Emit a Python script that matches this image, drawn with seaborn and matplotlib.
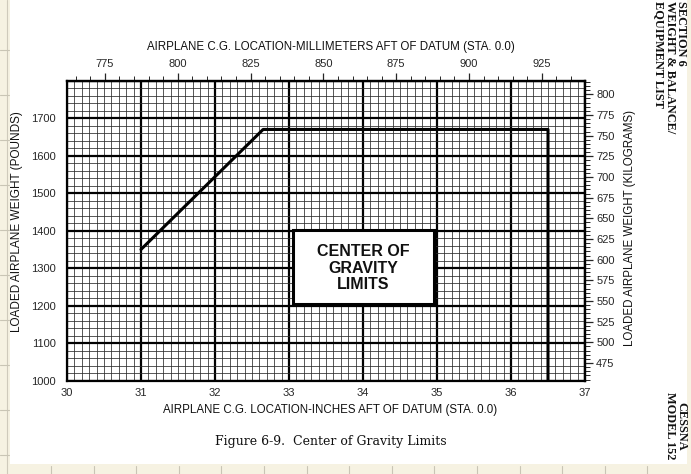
import numpy as np
import pandas as pd
import matplotlib
matplotlib.use("Agg")
import matplotlib.pyplot as plt
from matplotlib.patches import Rectangle
from matplotlib.lines import Line2D
import seaborn as sns

# ---------------- data ----------------
cg_inches = [31.0, 32.65, 36.5, 36.5]
weight_lb = [1350, 1670, 1670, 1000]

x_ticks_in = [30, 31, 32, 33, 34, 35, 36, 37]
y_ticks_lb = [1000, 1100, 1200, 1300, 1400, 1500, 1600, 1700]
top_ticks_mm = [775, 800, 825, 850, 875, 900, 925]
right_ticks_kg = [475, 500, 525, 550, 575, 600, 625, 650, 675, 700, 725, 750, 775, 800]

x_label = "AIRPLANE C.G. LOCATION-INCHES AFT OF DATUM (STA. 0.0)"
top_label = "AIRPLANE C.G. LOCATION-MILLIMETERS AFT OF DATUM (STA. 0.0)"
y_label = "LOADED AIRPLANE WEIGHT (POUNDS)"
right_label = "LOADED AIRPLANE WEIGHT (KILOGRAMS)"
box_text = "CENTER OF\nGRAVITY\nLIMITS"
caption = "Figure 6-9.  Center of Gravity Limits"
header = "SECTION 6\nWEIGHT & BALANCE/\nEQUIPMENT LIST"
footer = "CESSNA\nMODEL 152"

df = pd.DataFrame({"cg": cg_inches, "weight": weight_lb})

# ---------------- style ----------------
sns.set_style("white")
plt.rcParams["font.family"] = ["Liberation Sans", "DejaVu Sans"]
plt.rcParams["text.color"] = "#111111"

W, H = 691, 474
fig = plt.figure(figsize=(W / 100, H / 100), dpi=100)
fig.patch.set_facecolor("#f6f2e2")

# scanned page background
fig.add_artist(Rectangle((10 / W, 10 / H), 677 / W, 464 / H, transform=fig.transFigure,
                         facecolor="white", edgecolor="none", zorder=0))
fig.add_artist(Line2D([7 / W, 7 / W], [0, 1], transform=fig.transFigure, color="#cfcabb", lw=0.8))
for yy in np.arange(50, 470, 45):
    fig.add_artist(Line2D([0, 9 / W], [1 - yy / H, 1 - yy / H], transform=fig.transFigure,
                          color="#c9c5b5", lw=0.8))
for xx in np.arange(51, 690, 42.6):
    fig.add_artist(Line2D([xx / W, xx / W], [0, 8 / H], transform=fig.transFigure,
                          color="#c9c5b5", lw=0.8))

left, right, top, bottom = 67, 585, 80.7, 380.7
ax = fig.add_axes([left / W, 1 - bottom / H, (right - left) / W, (bottom - top) / H])
ax.set_facecolor("white")

sns.lineplot(data=df, x="cg", y="weight", sort=False, estimator=None,
             color="black", lw=2.2, ax=ax, zorder=4)

ax.set_xlim(30, 37)
ax.set_ylim(1000, 1800)
ax.set_xticks(x_ticks_in)
ax.set_xticklabels([str(v) for v in x_ticks_in])
ax.set_yticks(y_ticks_lb + [1800])
ax.set_yticklabels([str(v) for v in y_ticks_lb] + [""])
ax.set_xticks(np.arange(30, 37.001, 0.1), minor=True)
ax.set_yticks(np.arange(1000, 1800.1, 20), minor=True)
ax.grid(which="major", color="black", lw=1.6)
ax.grid(which="minor", color="#2a2a2a", lw=0.55)
ax.set_axisbelow(True)
ax.tick_params(which="both", length=0)
ax.tick_params(axis="x", pad=5, labelsize=8)
ax.tick_params(axis="y", pad=8, labelsize=8)
ax.set_xlabel("")
ax.set_ylabel("")
for sp in ax.spines.values():
    sp.set_visible(True)
    sp.set_color("black")
    sp.set_linewidth(1.6)

# top axis: millimetres
secx = ax.secondary_xaxis("top", functions=(lambda v: v * 25.4, lambda v: v / 25.4))
secx.set_xticks(top_ticks_mm)
secx.set_xticks(np.arange(765, 940, 5), minor=True)
secx.tick_params(which="major", length=6, width=0.9, pad=2.5, labelsize=8, direction="out")
secx.tick_params(which="minor", length=3.5, width=0.7, direction="out")
secx.spines["top"].set_linewidth(1.6)

# right axis: kilograms
secy = ax.secondary_yaxis("right", functions=(lambda v: v * 0.45359237, lambda v: v / 0.45359237))
secy.set_yticks(right_ticks_kg)
secy.set_yticks(np.arange(455, 816, 5), minor=True)
secy.tick_params(which="major", length=6, width=0.9, pad=2, labelsize=8, direction="out")
secy.tick_params(which="minor", length=3.5, width=0.7, direction="out")
secy.spines["right"].set_linewidth(1.6)

# box annotation
box_x0, box_x1, box_y0, box_y1 = 33.05, 34.96, 1205, 1403
ax.add_patch(Rectangle((box_x0, box_y0), box_x1 - box_x0, box_y1 - box_y0,
                       facecolor="white", edgecolor="black", lw=2.2, zorder=5))
ax.text((box_x0 + box_x1) / 2, (box_y0 + box_y1) / 2 - 4, box_text, ha="center", va="center",
        fontsize=11.5, fontweight="bold", linespacing=1.1, zorder=6)

# axis labels
fig.text(330 / W, 1 - 410 / H, x_label, ha="center", va="center", fontsize=8.3)
fig.text(331 / W, 1 - 47 / H, top_label, ha="center", va="center", fontsize=8.3)
fig.text(17 / W, 1 - 222 / H, y_label, ha="center", va="center", rotation=90, fontsize=8.5)
fig.text(630 / W, 1 - 228 / H, right_label, ha="center", va="center", rotation=90, fontsize=8.3)

# caption and page furniture
fig.text(331 / W, 1 - 442 / H, caption, ha="center", va="center", fontsize=9,
         family=["DejaVu Serif"])
fig.text(687 / W, 1 - 1 / H, header, ha="right", va="top", rotation=-90, fontsize=8.8,
         fontweight="bold", family=["Liberation Serif"], multialignment="left", linespacing=0.9)
fig.text(687 / W, 1 - 426 / H, footer, ha="right", va="center", rotation=-90, fontsize=8.8,
         fontweight="bold", family=["Liberation Serif"], multialignment="center", linespacing=0.9)

fig.savefig("out.png", dpi=100, facecolor=fig.get_facecolor())
